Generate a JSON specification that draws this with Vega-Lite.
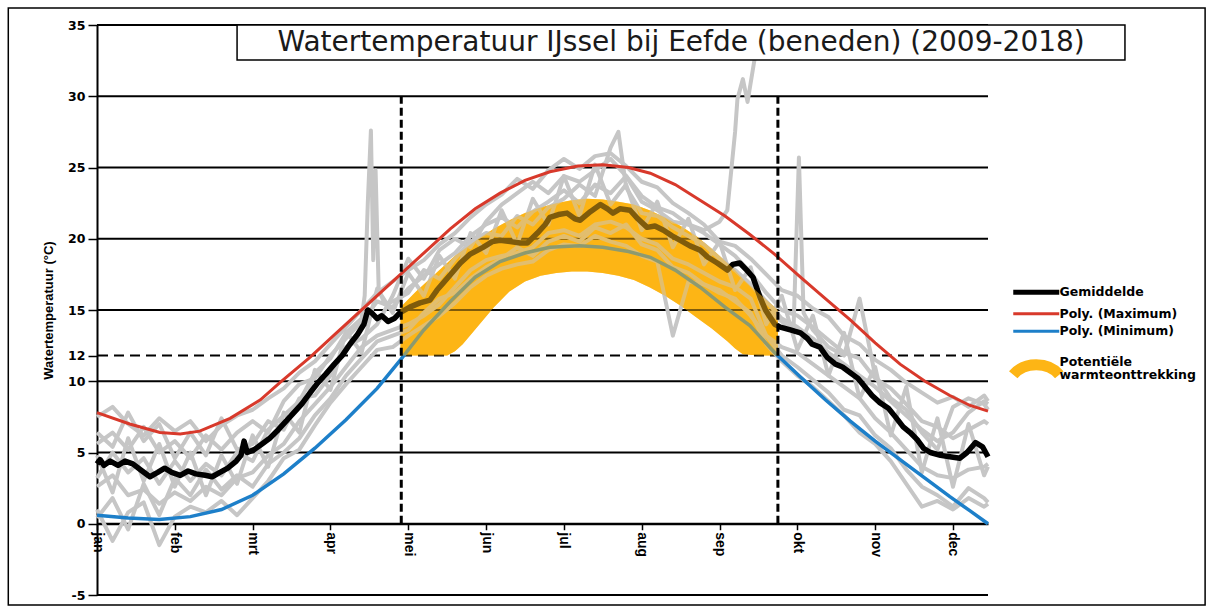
{
  "$schema": "https://vega.github.io/schema/vega-lite/v6.json",
  "width": 891,
  "height": 570,
  "autosize": {"type": "none"},
  "padding": {"left": 97, "top": 25, "right": 224, "bottom": 12},
  "background": "white",
  "config": {"view": {"stroke": null}, "font": "DejaVu Sans"},
  "datasets": {
    "one": [{}],
    "grid": [{"g": -5}, {"g": 0}, {"g": 5}, {"g": 10}, {"g": 15}, {"g": 20}, {"g": 25}, {"g": 30}, {"g": 35}],
    "thr": [{"t": 11.8}],
    "vthr": [{"d": 3.91}, {"d": 8.75}],
    "band": [
      {"m": 3.9, "hi": 15.2, "lo": 11.8}, {"m": 4.1, "hi": 16.3, "lo": 11.8}, {"m": 4.3, "hi": 17.3, "lo": 11.8},
      {"m": 4.5, "hi": 18.3, "lo": 11.8}, {"m": 4.6, "hi": 18.8, "lo": 12.1}, {"m": 4.7, "hi": 19.2, "lo": 12.6},
      {"m": 4.9, "hi": 20.0, "lo": 13.9}, {"m": 5.1, "hi": 20.7, "lo": 15.2}, {"m": 5.3, "hi": 21.3, "lo": 16.3},
      {"m": 5.5, "hi": 21.8, "lo": 17.0}, {"m": 5.7, "hi": 22.2, "lo": 17.4}, {"m": 5.9, "hi": 22.5, "lo": 17.6},
      {"m": 6.1, "hi": 22.7, "lo": 17.7}, {"m": 6.3, "hi": 22.8, "lo": 17.7}, {"m": 6.5, "hi": 22.75, "lo": 17.6},
      {"m": 6.7, "hi": 22.6, "lo": 17.4}, {"m": 6.9, "hi": 22.4, "lo": 17.1}, {"m": 7.1, "hi": 22.0, "lo": 16.6},
      {"m": 7.3, "hi": 21.5, "lo": 16.0}, {"m": 7.5, "hi": 20.9, "lo": 15.3}, {"m": 7.7, "hi": 20.2, "lo": 14.5},
      {"m": 7.9, "hi": 19.3, "lo": 13.7}, {"m": 8.1, "hi": 18.3, "lo": 12.8}, {"m": 8.2, "hi": 17.8, "lo": 12.3},
      {"m": 8.3, "hi": 17.2, "lo": 11.9}, {"m": 8.5, "hi": 16.2, "lo": 11.8}, {"m": 8.75, "hi": 15.0, "lo": 11.8}
    ],
    "maxc": [
      {"m": 0, "v": 7.8}, {"m": 0.42, "v": 7.0}, {"m": 0.81, "v": 6.4}, {"m": 1.07, "v": 6.3}, {"m": 1.32, "v": 6.5},
      {"m": 1.71, "v": 7.4}, {"m": 2.1, "v": 8.7}, {"m": 2.35, "v": 9.9}, {"m": 2.74, "v": 11.7}, {"m": 3.06, "v": 13.3},
      {"m": 3.38, "v": 14.9}, {"m": 3.64, "v": 16.2}, {"m": 3.9, "v": 17.5}, {"m": 4.22, "v": 19.1}, {"m": 4.54, "v": 20.7},
      {"m": 4.86, "v": 22.1}, {"m": 5.18, "v": 23.2}, {"m": 5.5, "v": 24.1}, {"m": 5.82, "v": 24.7}, {"m": 6.18, "v": 25.1},
      {"m": 6.5, "v": 25.2}, {"m": 6.83, "v": 25.0}, {"m": 7.11, "v": 24.6}, {"m": 7.43, "v": 23.8}, {"m": 7.75, "v": 22.7},
      {"m": 8.07, "v": 21.6}, {"m": 8.39, "v": 20.3}, {"m": 8.71, "v": 18.9}, {"m": 9.04, "v": 17.3}, {"m": 9.36, "v": 15.8},
      {"m": 9.68, "v": 14.3}, {"m": 10.0, "v": 12.7}, {"m": 10.32, "v": 11.2}, {"m": 10.64, "v": 10.0}, {"m": 10.96, "v": 9.0},
      {"m": 11.22, "v": 8.3}, {"m": 11.45, "v": 7.9}
    ],
    "minc": [
      {"m": 0, "v": 0.6}, {"m": 0.4, "v": 0.4}, {"m": 0.8, "v": 0.3}, {"m": 1.2, "v": 0.5}, {"m": 1.6, "v": 1.0},
      {"m": 2.0, "v": 2.0}, {"m": 2.4, "v": 3.5}, {"m": 2.8, "v": 5.3}, {"m": 3.2, "v": 7.3}, {"m": 3.6, "v": 9.5},
      {"m": 3.9, "v": 11.5}, {"m": 4.2, "v": 13.6}, {"m": 4.54, "v": 15.6}, {"m": 4.86, "v": 17.3}, {"m": 5.18, "v": 18.4},
      {"m": 5.5, "v": 19.0}, {"m": 5.82, "v": 19.4}, {"m": 6.2, "v": 19.5}, {"m": 6.5, "v": 19.4}, {"m": 6.83, "v": 19.1},
      {"m": 7.11, "v": 18.7}, {"m": 7.43, "v": 17.8}, {"m": 7.75, "v": 16.6}, {"m": 8.07, "v": 15.2}, {"m": 8.39, "v": 13.9},
      {"m": 8.71, "v": 12.0}, {"m": 9.04, "v": 10.3}, {"m": 9.36, "v": 8.7}, {"m": 9.68, "v": 7.2}, {"m": 10.0, "v": 5.8},
      {"m": 10.32, "v": 4.5}, {"m": 10.64, "v": 3.2}, {"m": 10.96, "v": 1.9}, {"m": 11.22, "v": 0.9}, {"m": 11.45, "v": 0.0}
    ],
    "mean": [
      {"m": 0, "v": 4.2}, {"m": 0.04, "v": 4.5}, {"m": 0.09, "v": 4.1}, {"m": 0.17, "v": 4.4}, {"m": 0.27, "v": 4.1},
      {"m": 0.36, "v": 4.4}, {"m": 0.46, "v": 4.2}, {"m": 0.58, "v": 3.7}, {"m": 0.68, "v": 3.3}, {"m": 0.78, "v": 3.6},
      {"m": 0.87, "v": 3.9}, {"m": 0.96, "v": 3.6}, {"m": 1.07, "v": 3.4}, {"m": 1.17, "v": 3.7}, {"m": 1.27, "v": 3.5},
      {"m": 1.39, "v": 3.4}, {"m": 1.48, "v": 3.3}, {"m": 1.58, "v": 3.6}, {"m": 1.68, "v": 3.9}, {"m": 1.79, "v": 4.4},
      {"m": 1.85, "v": 4.8}, {"m": 1.89, "v": 5.8}, {"m": 1.93, "v": 5.0}, {"m": 2.02, "v": 5.2}, {"m": 2.12, "v": 5.6},
      {"m": 2.22, "v": 6.0}, {"m": 2.33, "v": 6.6}, {"m": 2.43, "v": 7.2}, {"m": 2.53, "v": 7.8}, {"m": 2.63, "v": 8.4},
      {"m": 2.74, "v": 9.2}, {"m": 2.84, "v": 9.9}, {"m": 2.94, "v": 10.5}, {"m": 3.05, "v": 11.2}, {"m": 3.15, "v": 11.8},
      {"m": 3.25, "v": 12.6}, {"m": 3.35, "v": 13.3}, {"m": 3.43, "v": 14.0}, {"m": 3.48, "v": 15.0}, {"m": 3.53, "v": 14.8},
      {"m": 3.6, "v": 14.4}, {"m": 3.66, "v": 14.6}, {"m": 3.74, "v": 14.2}, {"m": 3.82, "v": 14.4}, {"m": 3.89, "v": 14.8},
      {"m": 4.02, "v": 15.2}, {"m": 4.15, "v": 15.5}, {"m": 4.28, "v": 15.7}, {"m": 4.37, "v": 16.4}, {"m": 4.45, "v": 16.9},
      {"m": 4.56, "v": 17.6}, {"m": 4.67, "v": 18.3}, {"m": 4.79, "v": 18.9}, {"m": 4.96, "v": 19.4}, {"m": 5.08, "v": 19.8},
      {"m": 5.18, "v": 19.9}, {"m": 5.31, "v": 19.8}, {"m": 5.44, "v": 19.7}, {"m": 5.53, "v": 19.7}, {"m": 5.66, "v": 20.4},
      {"m": 5.76, "v": 21.0}, {"m": 5.82, "v": 21.5}, {"m": 5.93, "v": 21.7}, {"m": 6.04, "v": 21.8}, {"m": 6.14, "v": 21.4},
      {"m": 6.21, "v": 21.3}, {"m": 6.34, "v": 21.9}, {"m": 6.47, "v": 22.4}, {"m": 6.56, "v": 22.1}, {"m": 6.63, "v": 21.8},
      {"m": 6.72, "v": 22.1}, {"m": 6.85, "v": 22.0}, {"m": 6.95, "v": 21.4}, {"m": 7.07, "v": 20.8}, {"m": 7.17, "v": 20.9},
      {"m": 7.28, "v": 20.6}, {"m": 7.39, "v": 20.2}, {"m": 7.49, "v": 19.9}, {"m": 7.62, "v": 19.5}, {"m": 7.75, "v": 19.2},
      {"m": 7.85, "v": 18.7}, {"m": 7.97, "v": 18.3}, {"m": 8.1, "v": 17.8}, {"m": 8.17, "v": 18.2}, {"m": 8.26, "v": 18.3},
      {"m": 8.35, "v": 17.8}, {"m": 8.43, "v": 17.3}, {"m": 8.52, "v": 15.9}, {"m": 8.59, "v": 15.0}, {"m": 8.65, "v": 14.5},
      {"m": 8.71, "v": 14.0}, {"m": 8.78, "v": 13.8}, {"m": 8.91, "v": 13.6}, {"m": 9.04, "v": 13.4}, {"m": 9.13, "v": 13.0},
      {"m": 9.19, "v": 12.6}, {"m": 9.29, "v": 12.4}, {"m": 9.38, "v": 11.7}, {"m": 9.49, "v": 11.2}, {"m": 9.58, "v": 11.0},
      {"m": 9.68, "v": 10.6}, {"m": 9.78, "v": 10.2}, {"m": 9.87, "v": 9.6}, {"m": 9.96, "v": 9.0}, {"m": 10.06, "v": 8.5},
      {"m": 10.17, "v": 8.1}, {"m": 10.26, "v": 7.5}, {"m": 10.36, "v": 6.8}, {"m": 10.45, "v": 6.4}, {"m": 10.54, "v": 5.9},
      {"m": 10.62, "v": 5.3}, {"m": 10.71, "v": 5.0}, {"m": 10.84, "v": 4.8}, {"m": 10.96, "v": 4.7}, {"m": 11.09, "v": 4.6},
      {"m": 11.18, "v": 5.0}, {"m": 11.29, "v": 5.7}, {"m": 11.38, "v": 5.4}, {"m": 11.45, "v": 4.7}
    ],
    "grey": [
      {"m": 0, "g1": 7.5, "g2": 1.0, "g3": 5.6, "g4": 2.6, "g5": 4.8, "g6": 0.4, "g7": 6.4, "g8": 3.2},
      {"m": 0.2, "g1": 8.2, "g2": -1.2, "g3": 6.4, "g4": 3.4, "g5": 2.2, "g6": 1.8, "g7": 5.4, "g8": 5.0},
      {"m": 0.4, "g1": 7.0, "g2": 0.8, "g3": 5.2, "g4": 2.0, "g5": 6.0, "g6": -0.4, "g7": 7.8, "g8": 3.6},
      {"m": 0.6, "g1": 6.2, "g2": 1.5, "g3": 6.8, "g4": 2.4, "g5": 3.0, "g6": 2.8, "g7": 5.8, "g8": 4.6},
      {"m": 0.8, "g1": 7.4, "g2": -1.5, "g3": 5.0, "g4": 1.4, "g5": 5.6, "g6": 0.6, "g7": 7.0, "g8": 2.8},
      {"m": 1.0, "g1": 6.5, "g2": 0.5, "g3": 5.8, "g4": 2.2, "g5": 2.6, "g6": 3.2, "g7": 4.6, "g8": 4.4},
      {"m": 1.2, "g1": 7.2, "g2": 1.2, "g3": 4.6, "g4": 1.6, "g5": 5.0, "g6": 2.0, "g7": 6.4, "g8": 3.0},
      {"m": 1.4, "g1": 5.8, "g2": 0.8, "g3": 6.2, "g4": 2.6, "g5": 2.0, "g6": 3.8, "g7": 4.8, "g8": 4.2},
      {"m": 1.6, "g1": 6.9, "g2": 1.6, "g3": 5.2, "g4": 2.0, "g5": 4.8, "g6": 2.4, "g7": 7.4, "g8": 3.4},
      {"m": 1.8, "g1": 7.6, "g2": 0.6, "g3": 6.4, "g4": 3.2, "g5": 2.8, "g6": 3.4, "g7": 5.2, "g8": 5.0},
      {"m": 2.0, "g1": 8.0, "g2": 1.8, "g3": 7.2, "g4": 3.6, "g5": 6.2, "g6": 2.6, "g7": 5.6, "g8": 4.4},
      {"m": 2.2, "g1": 8.8, "g2": 3.0, "g3": 6.4, "g4": 4.8, "g5": 4.0, "g6": 4.2, "g7": 7.2, "g8": 6.6},
      {"m": 2.4, "g1": 9.5, "g2": 4.6, "g3": 8.6, "g4": 5.6, "g5": 7.8, "g6": 5.0, "g7": 6.6, "g8": 7.6},
      {"m": 2.6, "g1": 10.6, "g2": 5.2, "g3": 9.8, "g4": 7.2, "g5": 6.4, "g6": 6.0, "g7": 8.8, "g8": 8.6},
      {"m": 2.8, "g1": 11.4, "g2": 6.9, "g3": 10.2, "g4": 8.4, "g5": 10.8, "g6": 7.6, "g7": 9.0, "g8": 10.6},
      {"m": 3.0, "g1": 12.6, "g2": 8.5, "g3": 11.8, "g4": 9.6, "g5": 9.4, "g6": 8.8, "g7": 10.4, "g8": 11.6},
      {"m": 3.2, "g1": 13.8, "g2": 9.8, "g3": 13.0, "g4": 11.0, "g5": 13.5, "g6": 10.4, "g7": 12.4, "g8": 13.4},
      {"m": 3.4, "g1": 15.0, "g2": 11.0, "g3": 14.2, "g4": 12.4, "g5": 12.0, "g6": 11.6, "g7": 13.0, "g8": 14.4},
      {"m": 3.44, "g8": 16.0},
      {"m": 3.48, "g8": 22.5},
      {"m": 3.52, "g8": 27.6},
      {"m": 3.55, "g8": 18.5},
      {"m": 3.58, "g8": 24.8},
      {"m": 3.6, "g1": 16.2, "g2": 12.2, "g3": 15.6, "g4": 13.2, "g5": 16.5, "g6": 12.8, "g7": 14.0},
      {"m": 3.62, "g8": 16.4},
      {"m": 3.7, "g8": 15.4},
      {"m": 3.8, "g1": 17.0, "g2": 12.4, "g3": 15.2, "g4": 13.6, "g5": 14.8, "g6": 13.2, "g7": 16.0, "g8": 15.6},
      {"m": 4.0, "g1": 17.8, "g2": 13.2, "g3": 16.5, "g4": 14.0, "g5": 17.6, "g6": 13.6, "g7": 18.6, "g8": 16.2},
      {"m": 4.2, "g1": 18.5, "g2": 13.9, "g3": 17.4, "g4": 14.6, "g5": 16.0, "g6": 14.8, "g7": 17.2, "g8": 17.8},
      {"m": 4.4, "g1": 19.6, "g2": 14.6, "g3": 18.2, "g4": 15.4, "g5": 18.8, "g6": 15.8, "g7": 19.2, "g8": 17.2},
      {"m": 4.6, "g1": 20.4, "g2": 15.5, "g3": 19.0, "g4": 16.6, "g5": 17.2, "g6": 16.2, "g7": 20.0, "g8": 18.6},
      {"m": 4.8, "g1": 21.5, "g2": 16.6, "g3": 20.2, "g4": 17.8, "g5": 20.4, "g6": 17.2, "g7": 19.4, "g8": 19.8},
      {"m": 5.0, "g1": 22.4, "g2": 17.4, "g3": 21.0, "g4": 18.5, "g5": 19.0, "g6": 18.0, "g7": 21.2, "g8": 20.4},
      {"m": 5.2, "g1": 23.1, "g2": 17.9, "g3": 21.5, "g4": 18.8, "g5": 22.0, "g6": 18.6, "g7": 22.4, "g8": 20.2},
      {"m": 5.4, "g1": 24.2, "g2": 18.2, "g3": 20.8, "g4": 19.0, "g5": 19.6, "g6": 19.4, "g7": 23.2, "g8": 21.6},
      {"m": 5.6, "g1": 23.5, "g2": 18.4, "g3": 21.9, "g4": 19.4, "g5": 22.8, "g6": 18.8, "g7": 24.0, "g8": 21.0},
      {"m": 5.8, "g1": 24.8, "g2": 19.2, "g3": 22.6, "g4": 20.4, "g5": 21.0, "g6": 19.8, "g7": 23.2, "g8": 22.2},
      {"m": 6.0, "g1": 25.6, "g2": 19.6, "g3": 23.4, "g4": 20.6, "g5": 24.4, "g6": 20.2, "g7": 24.4, "g8": 22.8},
      {"m": 6.2, "g1": 24.9, "g2": 19.5, "g3": 22.5, "g4": 20.2, "g5": 21.6, "g6": 19.8, "g7": 24.0, "g8": 23.8},
      {"m": 6.4, "g1": 25.8, "g2": 20.2, "g3": 23.8, "g4": 21.0, "g5": 25.2, "g6": 20.8, "g7": 24.8, "g8": 23.0},
      {"m": 6.6, "g1": 26.0, "g2": 19.8, "g3": 23.2, "g4": 21.2, "g5": 22.4, "g6": 20.4, "g7": 25.6, "g8": 26.4},
      {"m": 6.7, "g8": 27.5},
      {"m": 6.8, "g1": 25.1, "g2": 19.5, "g3": 24.4, "g4": 20.8, "g5": 23.8, "g6": 21.0, "g7": 24.4, "g8": 23.6},
      {"m": 7.0, "g1": 24.0, "g2": 18.8, "g3": 23.0, "g4": 20.0, "g5": 20.6, "g6": 19.6, "g7": 22.6, "g8": 21.8},
      {"m": 7.2, "g1": 23.6, "g2": 18.4, "g3": 22.2, "g4": 19.6, "g5": 22.6, "g6": 19.2, "g7": 22.0, "g8": 21.6},
      {"m": 7.4, "g1": 22.5, "g2": 13.2, "g3": 21.8, "g4": 18.6, "g5": 19.4, "g6": 18.0, "g7": 21.2, "g8": 20.8},
      {"m": 7.6, "g1": 21.8, "g2": 17.0, "g3": 21.0, "g4": 18.2, "g5": 21.4, "g6": 17.6, "g7": 21.0, "g8": 20.2},
      {"m": 7.8, "g1": 21.0, "g2": 16.8, "g3": 20.4, "g4": 17.6, "g5": 18.2, "g6": 16.8, "g7": 20.6, "g8": 19.6},
      {"m": 8.0, "g1": 19.8, "g2": 16.2, "g3": 19.6, "g4": 17.0, "g5": 19.8, "g6": 16.4, "g7": 21.2, "g8": 18.6},
      {"m": 8.1, "g7": 22.0},
      {"m": 8.2, "g1": 19.5, "g2": 15.8, "g3": 18.8, "g4": 16.6, "g5": 16.4, "g6": 15.6, "g7": 27.5, "g8": 17.8},
      {"m": 8.23, "g7": 29.8},
      {"m": 8.3, "g7": 31.2},
      {"m": 8.36, "g7": 29.6},
      {"m": 8.4, "g1": 18.6, "g2": 14.6, "g3": 17.6, "g4": 15.8, "g5": 18.0, "g6": 14.8, "g8": 16.8},
      {"m": 8.45, "g7": 32.6},
      {"m": 8.5, "g7": 34.5},
      {"m": 8.6, "g1": 17.5, "g2": 13.2, "g3": 16.2, "g4": 13.2, "g5": 14.0, "g6": 12.6, "g8": 15.6, "g9": 15.0},
      {"m": 8.8, "g1": 16.4, "g2": 11.8, "g3": 15.0, "g4": 12.4, "g5": 16.0, "g6": 11.4, "g8": 14.4, "g9": 14.2},
      {"m": 8.95, "g9": 13.5},
      {"m": 9.0, "g1": 16.0, "g2": 11.0, "g3": 14.6, "g4": 12.0, "g5": 12.2, "g6": 10.4, "g8": 13.8},
      {"m": 9.02, "g9": 25.7},
      {"m": 9.08, "g9": 14.8},
      {"m": 9.2, "g1": 15.1, "g2": 10.1, "g3": 13.8, "g4": 11.2, "g5": 14.6, "g6": 9.6, "g8": 13.0, "g9": 13.6},
      {"m": 9.4, "g1": 14.5, "g2": 9.2, "g3": 12.9, "g4": 10.4, "g5": 10.4, "g6": 8.6, "g8": 12.0, "g9": 12.4},
      {"m": 9.6, "g1": 13.2, "g2": 8.0, "g3": 12.0, "g4": 9.6, "g5": 13.4, "g6": 7.6, "g8": 11.2, "g9": 11.8},
      {"m": 9.8, "g1": 12.6, "g2": 7.6, "g3": 11.6, "g4": 8.8, "g5": 8.8, "g6": 6.4, "g8": 10.4, "g9": 15.8},
      {"m": 10.0, "g1": 11.5, "g2": 6.2, "g3": 10.2, "g4": 7.4, "g5": 11.0, "g6": 5.6, "g8": 9.6, "g9": 10.4},
      {"m": 10.2, "g1": 10.8, "g2": 5.3, "g3": 9.5, "g4": 6.4, "g5": 6.2, "g6": 4.4, "g8": 8.6, "g9": 8.8},
      {"m": 10.4, "g1": 9.9, "g2": 3.8, "g3": 8.4, "g4": 5.2, "g5": 9.6, "g6": 2.8, "g8": 7.6, "g9": 8.0},
      {"m": 10.6, "g1": 9.2, "g2": 2.6, "g3": 7.2, "g4": 4.0, "g5": 3.6, "g6": 1.2, "g8": 6.6, "g9": 6.4},
      {"m": 10.8, "g1": 8.5, "g2": 2.0, "g3": 6.8, "g4": 3.4, "g5": 7.4, "g6": 1.6, "g8": 5.8, "g9": 5.2},
      {"m": 11.0, "g1": 8.9, "g2": 1.2, "g3": 6.0, "g4": 3.2, "g5": 2.6, "g6": 1.0, "g8": 6.4, "g9": 8.2},
      {"m": 11.2, "g1": 8.2, "g2": 2.5, "g3": 6.6, "g4": 3.8, "g5": 7.0, "g6": 1.8, "g8": 7.8, "g9": 8.8},
      {"m": 11.4, "g1": 9.0, "g2": 1.8, "g3": 7.2, "g4": 4.0, "g5": 3.4, "g6": 1.2, "g8": 8.6, "g9": 8.4},
      {"m": 11.45, "g1": 8.6, "g2": 1.5, "g3": 7.0, "g4": 4.2, "g5": 4.0, "g6": 1.4, "g8": 8.4, "g9": 8.0}
    ]
  },
  "layer": [
    {
      "data": {"name": "band"},
      "mark": {"type": "area", "color": "#FDB515", "opacity": 1},
      "encoding": {
        "x": {"field": "m", "type": "quantitative", "title": null,
          "scale": {"domain": [0, 11.45], "nice": false, "zero": false},
          "axis": {"values": [0, 1, 2, 3, 4, 5, 6, 7, 8, 9, 10, 11],
            "labelExpr": "['jan','feb','mrt','apr','mei','jun','jul','aug','sep','okt','nov','dec'][datum.value]",
            "offset": -71.25, "labelAngle": 90, "grid": false, "title": null,
            "domainColor": "black", "domainWidth": 2, "tickColor": "black", "tickWidth": 1.5, "tickSize": 6,
            "labelFont": "Liberation Sans", "labelFontWeight": "bold", "labelFontSize": 14, "labelColor": "black",
            "labelPadding": 2, "labelFlush": false, "labelOverlap": false}},
        "y": {"field": "hi", "type": "quantitative", "title": "Watertemperatuur (°C)",
          "scale": {"domain": [-5, 35], "nice": false, "zero": false},
          "axis": {"values": [-5, 0, 5, 10, 11.8, 15, 20, 25, 30, 35],
            "labelExpr": "abs(datum.value-11.8)<0.01 ? '12' : '' + datum.value",
            "grid": false, "domainColor": "black", "domainWidth": 2, "tickColor": "black", "tickWidth": 1.5, "tickSize": 9,
            "labelFont": "DejaVu Sans", "labelFontWeight": "bold", "labelFontSize": 12.5, "labelColor": "black",
            "labelPadding": 3, "labelFlush": false, "labelOverlap": false,
            "title": "Watertemperatuur (°C)", "titleFont": "Liberation Sans", "titleFontWeight": "bold",
            "titleFontSize": 13, "titleColor": "black", "titlePadding": 12}},
        "y2": {"field": "lo"}
      }
    },
    {
      "data": {"name": "grid"},
      "mark": {"type": "rule", "color": "black", "strokeWidth": 1.8},
      "encoding": {"y": {"field": "g", "type": "quantitative", "title": "Watertemperatuur (°C)"}}
    },
    {
      "data": {"name": "thr"},
      "mark": {"type": "rule", "color": "black", "strokeWidth": 2, "strokeDash": [10, 6]},
      "encoding": {"y": {"field": "t", "type": "quantitative", "title": "Watertemperatuur (°C)"}}
    },
    {
      "data": {"name": "grey"},
      "transform": [
        {"fold": ["g1", "g2", "g3", "g4", "g5", "g6", "g7", "g8", "g9"], "as": ["serie", "v"]},
        {"filter": "isValid(datum.v)"}
      ],
      "mark": {"type": "line", "color": "#C6C6C6", "strokeWidth": 4, "strokeJoin": "round"},
      "encoding": {
        "x": {"field": "m", "type": "quantitative", "title": null},
        "y": {"field": "v", "type": "quantitative", "title": "Watertemperatuur (°C)"},
        "detail": {"field": "serie"}
      }
    },
    {
      "data": {"name": "mean"},
      "mark": {"type": "line", "strokeWidth": 5.5, "strokeJoin": "round"},
      "encoding": {
        "x": {"field": "m", "type": "quantitative", "title": null},
        "y": {"field": "v", "type": "quantitative", "title": "Watertemperatuur (°C)"},
        "color": {"datum": "Gemiddelde", "type": "nominal",
          "scale": {"domain": ["Gemiddelde", "Poly. (Maximum)", "Poly. (Minimum)", "Potentiële warmteonttrekking"],
                    "range": ["#000000", "#D8392B", "#1D7FC9", "#FDB515"]},
          "legend": {"orient": "none", "legendX": 933, "legendY": 261, "title": null,
            "symbolSize": 400, "symbolStrokeWidth": 3, "labelOffset": 17, "padding": 0, "rowPadding": 4.5,
            "labelFont": "DejaVu Sans", "labelFontWeight": "bold", "labelFontSize": 12.5, "labelColor": "black", "labelLimit": 300,
            "labelExpr": "datum.label == 'Potentiële warmteonttrekking' ? ['Potentiële', 'warmteonttrekking'] : datum.label",
            "encode": {
              "symbols": {"update": {
                "shape": {"signal": "datum.value == 'Potentiële warmteonttrekking' ? 'M-2.3,1.9C-1.2,0.57,1.2,0.57,2.3,1.9' : 'M-2.3,0L2.3,0'"},
                "strokeWidth": {"signal": "datum.value == 'Gemiddelde' ? 5 : datum.value == 'Potentiële warmteonttrekking' ? 11 : 3"},
                "fill": {"value": "transparent"},
                "opacity": {"value": 1}
              }},
              "labels": {"update": {
                "lineHeight": {"value": 13},
                "baseline": {"signal": "datum.value == 'Potentiële warmteonttrekking' ? 'top' : 'middle'"}
              }}
            }}
        }
      }
    },
    {
      "data": {"name": "maxc"},
      "mark": {"type": "line", "strokeWidth": 3},
      "encoding": {
        "x": {"field": "m", "type": "quantitative", "title": null},
        "y": {"field": "v", "type": "quantitative", "title": "Watertemperatuur (°C)"},
        "color": {"datum": "Poly. (Maximum)", "type": "nominal"}
      }
    },
    {
      "data": {"name": "minc"},
      "mark": {"type": "line", "strokeWidth": 3.5},
      "encoding": {
        "x": {"field": "m", "type": "quantitative", "title": null},
        "y": {"field": "v", "type": "quantitative", "title": "Watertemperatuur (°C)"},
        "color": {"datum": "Poly. (Minimum)", "type": "nominal"}
      }
    },
    {
      "data": {"name": "band"},
      "mark": {"type": "area", "color": "#FDB515", "opacity": 0.5},
      "encoding": {
        "x": {"field": "m", "type": "quantitative", "title": null},
        "y": {"field": "hi", "type": "quantitative", "title": "Watertemperatuur (°C)"},
        "y2": {"field": "lo"}
      }
    },
    {
      "data": {"name": "vthr"},
      "mark": {"type": "rule", "color": "black", "strokeWidth": 3, "strokeDash": [8, 4]},
      "encoding": {
        "x": {"field": "d", "type": "quantitative", "title": null},
        "y": {"datum": 0, "type": "quantitative"},
        "y2": {"datum": 30}
      }
    },
    {
      "data": {"name": "one"},
      "mark": {"type": "rect", "fill": "transparent", "stroke": "black", "strokeWidth": 1.5},
      "encoding": {
        "x": {"datum": -1.14, "type": "quantitative"},
        "x2": {"datum": 14.24},
        "y": {"datum": 36.19, "type": "quantitative"},
        "y2": {"datum": -5.7}
      }
    },
    {
      "data": {"name": "one"},
      "mark": {"type": "rect", "fill": "white", "stroke": "black", "strokeWidth": 1.5},
      "encoding": {
        "x": {"datum": 1.8, "type": "quantitative"},
        "x2": {"datum": 13.21},
        "y": {"datum": 35, "type": "quantitative"},
        "y2": {"datum": 32.55}
      }
    },
    {
      "data": {"name": "one"},
      "mark": {"type": "text", "text": "Watertemperatuur IJssel bij Eefde (beneden) (2009-2018)",
        "font": "DejaVu Sans", "fontSize": 28, "color": "#1a1a1a", "align": "center", "baseline": "middle"},
      "encoding": {
        "x": {"datum": 7.507, "type": "quantitative"},
        "y": {"datum": 33.74, "type": "quantitative"}
      }
    }
  ]
}
